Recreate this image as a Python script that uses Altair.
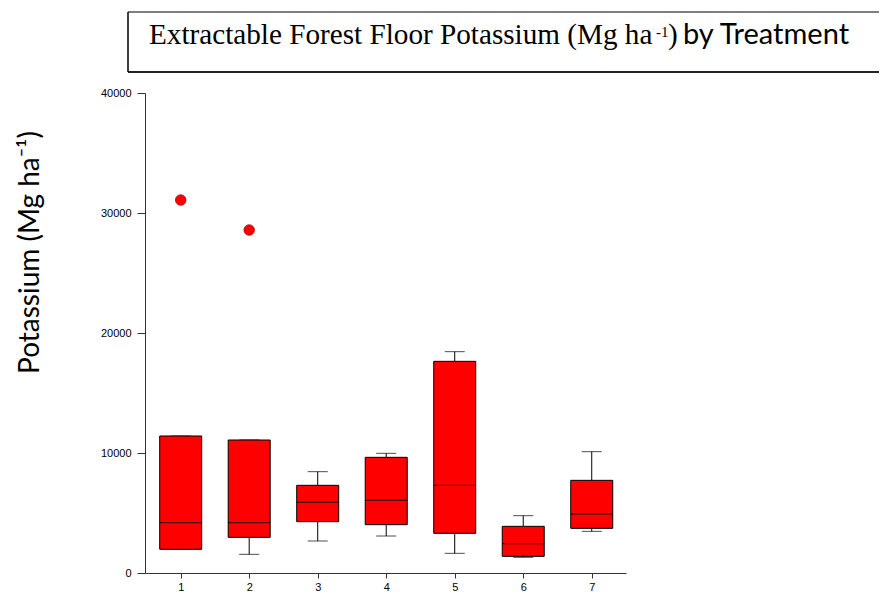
import altair as alt
import pandas as pd

treatments = [1, 2, 3, 4, 5, 6, 7]
whisker_low = [1975, 1555, 2667, 3083, 1639, 1306, 3472]
q1 = [1975, 2972, 4278, 4028, 3306, 1389, 3722]
median = [4195, 4195, 5889, 6056, 7306, 2444, 4917]
q3 = [11417, 11083, 7306, 9639, 17639, 3889, 7722]
whisker_high = [11417, 11083, 8444, 9972, 18444, 4778, 10111]
outlier_treatment = [1, 2]
outlier_value = [31083, 28583]
y_ticks = [0, 10000, 20000, 30000, 40000]

stats = pd.DataFrame({
    "Treatment": treatments,
    "lo": whisker_low,
    "q1": q1,
    "med": median,
    "q3": q3,
    "hi": whisker_high,
})
outliers = pd.DataFrame({"Treatment": outlier_treatment, "K": outlier_value})

xscale = alt.Scale(domain=[0.479, 7.5], nice=False, zero=False, padding=0)
yscale = alt.Scale(domain=[0, 40000], nice=False, padding=0)

xenc = alt.X("Treatment:Q", scale=xscale,
             axis=alt.Axis(values=treatments, format="d", title=None, grid=False,
                           tickSize=5, labelPadding=3, domainColor="#333333",
                           tickColor="#333333", labelFontSize=11,
                           labelFont="Liberation Sans", labelColor="black"))

base = alt.Chart(stats)

whiskers = base.mark_rule(color="black", strokeWidth=1).encode(
    x=xenc,
    y=alt.Y("lo:Q", scale=yscale,
            axis=alt.Axis(values=y_ticks, format="d", grid=False, tickSize=8,
                          labelPadding=6, domainColor="#333333", tickColor="#333333",
                          labelFontSize=11, labelFont="Liberation Sans",
                          labelColor="black",
                          title="Potassium (Mg ha⁻¹)", titleFont="Lato",
                          titleFontSize=28, titleFontWeight="normal",
                          titleColor="black", titleAngle=270,
                          titleX=-115, titleY=159, titleAlign="center",
                          titleBaseline="middle")),
    y2="hi:Q",
)

caps_lo = base.mark_tick(color="black", size=20, thickness=1, orient="horizontal").encode(
    x="Treatment:Q", y="lo:Q")
caps_hi = base.mark_tick(color="black", size=20, thickness=1, orient="horizontal").encode(
    x="Treatment:Q", y="hi:Q")

boxes = base.mark_bar(color="#ff0000", stroke="black", strokeWidth=1, size=42).encode(
    x="Treatment:Q", y="q1:Q", y2="q3:Q")

medians = base.mark_tick(color="black", size=42, thickness=1.3, orient="horizontal").encode(
    x="Treatment:Q", y="med:Q")

points = alt.Chart(outliers).mark_point(
    filled=True, color="#ff0000", stroke="#b00000", strokeWidth=0.8,
    size=110, opacity=1, shape="circle"
).encode(x="Treatment:Q", y="K:Q")

one = alt.Data(values=[{"a": 1}])

box_top = alt.Chart(one).mark_rule(color="black", strokeWidth=1).encode(
    x=alt.value(-17), x2=alt.value(740), y=alt.value(-81))
box_bottom = alt.Chart(one).mark_rule(color="#222222", strokeWidth=2).encode(
    x=alt.value(-17), x2=alt.value(740), y=alt.value(-21))
box_left = alt.Chart(one).mark_rule(color="black", strokeWidth=1.5).encode(
    x=alt.value(-17), y=alt.value(-81), y2=alt.value(-21))

t1 = alt.Chart(one).mark_text(
    text="Extractable Forest Floor Potassium (Mg ha", font="Liberation Serif",
    fontSize=29.2, align="left", baseline="alphabetic", color="black"
).encode(x=alt.value(4), y=alt.value(-49))
t2 = alt.Chart(one).mark_text(
    text="-1", font="Liberation Serif", fontSize=15, align="left",
    baseline="alphabetic", color="black"
).encode(x=alt.value(511), y=alt.value(-56))
t3 = alt.Chart(one).mark_text(
    text=")", font="Liberation Serif", fontSize=29.2, align="left",
    baseline="alphabetic", color="black"
).encode(x=alt.value(523), y=alt.value(-49))
t4 = alt.Chart(one).mark_text(
    text="by Treatment", font="Lato", fontSize=29, align="left",
    baseline="alphabetic", color="black"
).encode(x=alt.value(538), y=alt.value(-49))

chart = alt.layer(
    whiskers, caps_lo, caps_hi, boxes, medians, points,
    box_top, box_bottom, box_left, t1, t2, t3, t4
).properties(
    width=481, height=480,
    autosize=alt.AutoSizeParams(type="none"),
    padding={"left": 137, "top": 85, "right": 253, "bottom": 18},
    background="white",
).configure_view(stroke=None)

chart.save("out.html", embed_options={"renderer": "svg", "actions": False})
